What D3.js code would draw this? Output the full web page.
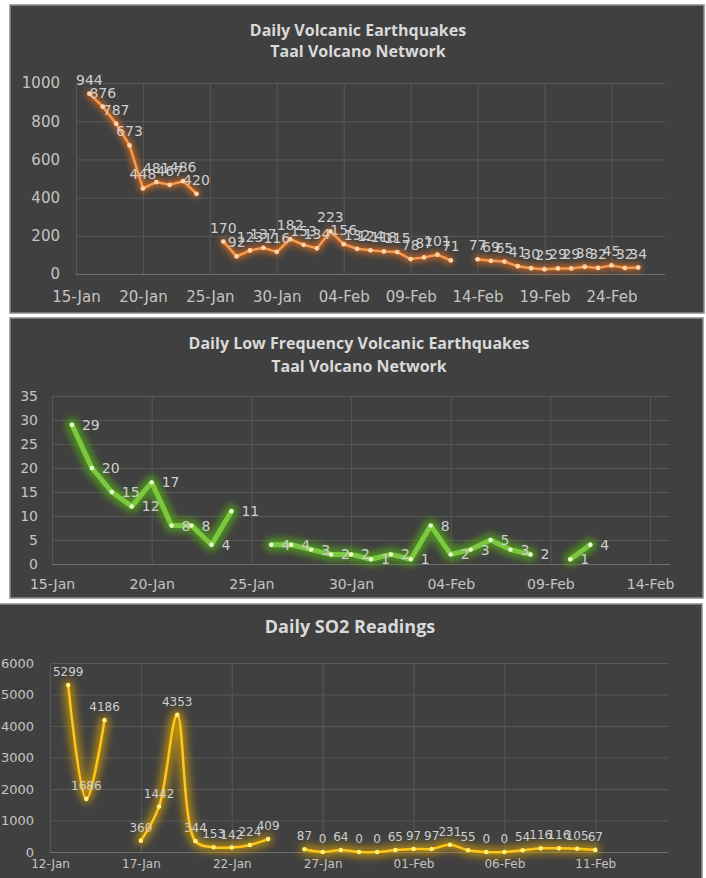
<!DOCTYPE html>
<html>
<head>
<meta charset="utf-8">
<script src="https://cdn.jsdelivr.net/npm/d3@7"></script>
<style>
  html, body { margin: 0; padding: 0; background: #ffffff; }
  svg { display: block; }
  .title { font-family: "Open Sans", sans-serif; font-weight: bold; fill: #d9d9d9; }
  .tick text { font-family: "DejaVu Sans", sans-serif; fill: #c4c4c4; }
  .lbl { font-family: "DejaVu Sans", sans-serif; fill: #cfcfcf; }
</style>
</head>
<body>
<svg id="chart" width="706" height="878"></svg>
<script>
// ---- Daily volcanic earthquakes (Taal Volcano Network) ----
const vtDays = ["2020-01-16","2020-01-17","2020-01-18","2020-01-19","2020-01-20","2020-01-21","2020-01-22","2020-01-23","2020-01-24","2020-01-25",
  "2020-01-26","2020-01-27","2020-01-28","2020-01-29","2020-01-30","2020-01-31","2020-02-01","2020-02-02","2020-02-03","2020-02-04",
  "2020-02-05","2020-02-06","2020-02-07","2020-02-08","2020-02-09","2020-02-10","2020-02-11","2020-02-12","2020-02-13","2020-02-14",
  "2020-02-15","2020-02-16","2020-02-17","2020-02-18","2020-02-19","2020-02-20","2020-02-21","2020-02-22","2020-02-23","2020-02-24",
  "2020-02-25","2020-02-26"];
const vtCounts = [944,876,787,673,448,481,467,486,420,null,
  170,92,123,137,116,182,153,134,223,156,
  132,124,118,115,78,87,101,71,null,77,
  69,65,41,30,25,29,29,38,32,45,
  32,34];
const vtTicks = ["2020-01-15","2020-01-20","2020-01-25","2020-01-30","2020-02-04","2020-02-09","2020-02-14","2020-02-19","2020-02-24"];
const vtYTicks = [0,200,400,600,800,1000];

// ---- Daily low frequency volcanic earthquakes ----
const lfDays = ["2020-01-16","2020-01-17","2020-01-18","2020-01-19","2020-01-20","2020-01-21","2020-01-22","2020-01-23","2020-01-24","2020-01-25",
  "2020-01-26","2020-01-27","2020-01-28","2020-01-29","2020-01-30","2020-01-31","2020-02-01","2020-02-02","2020-02-03","2020-02-04",
  "2020-02-05","2020-02-06","2020-02-07","2020-02-08","2020-02-09","2020-02-10","2020-02-11"];
const lfCounts = [29,20,15,12,17,8,8,4,11,null,
  4,4,3,2,2,1,2,1,8,2,
  3,5,3,2,null,1,4];
const lfTicks = ["2020-01-15","2020-01-20","2020-01-25","2020-01-30","2020-02-04","2020-02-09","2020-02-14"];
const lfYTicks = [0,5,10,15,20,25,30,35];

// ---- Daily SO2 readings ----
const so2Days = ["2020-01-13","2020-01-14","2020-01-15","2020-01-16","2020-01-17","2020-01-18","2020-01-19","2020-01-20","2020-01-21","2020-01-22",
  "2020-01-23","2020-01-24","2020-01-25","2020-01-26","2020-01-27","2020-01-28","2020-01-29","2020-01-30","2020-01-31","2020-02-01",
  "2020-02-02","2020-02-03","2020-02-04","2020-02-05","2020-02-06","2020-02-07","2020-02-08","2020-02-09","2020-02-10","2020-02-11"];
const so2Values = [5299,1686,4186,null,360,1442,4353,344,153,142,
  224,409,null,87,0,64,0,0,65,97,
  97,231,55,0,0,54,116,116,105,67];
const so2Ticks = ["2020-01-12","2020-01-17","2020-01-22","2020-01-27","2020-02-01","2020-02-06","2020-02-11"];
const so2YTicks = [0,1000,2000,3000,4000,5000,6000];

const parse = d3.utcParse("%Y-%m-%d");
const fmt = d3.utcFormat("%d-%b");
const svg = d3.select("#chart");

// soft blur used for the glow under each line
const defs = svg.append("defs");
[["blur3", 3], ["blur4", 4]].forEach(([id, sd]) => {
  defs.append("filter").attr("id", id)
    .attr("x", "-10%").attr("y", "-30%").attr("width", "120%").attr("height", "160%")
    .append("feGaussianBlur").attr("stdDeviation", sd);
});

// panel backgrounds
function panel(x, y, w, h) {
  svg.append("rect").attr("x", x).attr("y", y).attr("width", w).attr("height", h)
    .attr("fill", "#404040").attr("stroke", "#8c8c8c").attr("stroke-width", 1.5);
}
panel(10, 5, 694, 308);
panel(10, 318, 693, 280);
panel(-2, 604, 704, 280);

function drawChart(cfg) {
  const g = svg.append("g");
  const data = cfg.days.map((d, i) => ({ date: parse(d), value: cfg.values[i] }));
  const x = d3.scaleUtc().domain(cfg.xDomain.map(parse)).range([cfg.left, cfg.right]);
  const y = d3.scaleLinear().domain(cfg.yDomain).range([cfg.bottom, cfg.top]);

  // gridlines
  g.append("g").attr("transform", `translate(0,${cfg.bottom})`)
    .call(d3.axisBottom(x).tickValues(cfg.ticks.map(parse)).tickSize(-(cfg.bottom - cfg.top)).tickFormat(""))
    .call(s => s.select(".domain").remove())
    .call(s => s.selectAll("line").attr("stroke", "#575757"));
  g.append("g").attr("transform", `translate(${cfg.left},0)`)
    .call(d3.axisLeft(y).tickValues(cfg.yTicks).tickSize(-(cfg.right - cfg.left)).tickFormat(""))
    .call(s => s.select(".domain").remove())
    .call(s => s.selectAll("line").attr("stroke", d => d === 0 ? "#6e6e6e" : "#575757"));

  // axis labels
  g.append("g").attr("transform", `translate(0,${cfg.xLabelY})`)
    .call(d3.axisBottom(x).tickValues(cfg.ticks.map(parse)).tickSize(0).tickPadding(0).tickFormat(fmt))
    .call(s => s.select(".domain").remove())
    .call(s => s.selectAll("text").attr("font-size", cfg.axisFont).attr("dy", 0));
  g.append("g").attr("transform", `translate(${cfg.yLabelX},0)`)
    .call(d3.axisLeft(y).tickValues(cfg.yTicks).tickSize(0).tickPadding(0).tickFormat(d3.format("d")))
    .call(s => s.select(".domain").remove())
    .call(s => s.selectAll("text").attr("font-size", cfg.yFont));

  // line with glow
  const line = d3.line().defined(d => d.value !== null)
    .x(d => x(d.date)).y(d => y(d.value)).curve(cfg.curve);
  g.append("path").datum(data).attr("d", line).attr("fill", "none")
    .attr("stroke", cfg.glow).attr("stroke-width", cfg.glowWidth).attr("stroke-opacity", 0.75)
    .attr("stroke-linecap", "round").attr("stroke-linejoin", "round").attr("filter", `url(#${cfg.blur})`);
  g.append("path").datum(data).attr("d", line).attr("fill", "none")
    .attr("stroke", cfg.color).attr("stroke-width", cfg.width)
    .attr("stroke-linecap", "round").attr("stroke-linejoin", "round");

  const pts = data.filter(d => d.value !== null);
  g.selectAll(".dot").data(pts).join("circle")
    .attr("cx", d => x(d.date)).attr("cy", d => y(d.value)).attr("r", cfg.dotR)
    .attr("fill", cfg.dot);

  // data labels
  g.selectAll(".lbl").data(pts).join("text").attr("class", "lbl")
    .attr("x", d => x(d.date) + cfg.labelDx).attr("y", d => y(d.value) + cfg.labelDy)
    .attr("text-anchor", cfg.labelAnchor).attr("font-size", cfg.labelFont)
    .text(d => d.value);

  // title
  cfg.title.forEach((t, i) => {
    svg.append("text").attr("class", "title").attr("x", cfg.titleX).attr("y", cfg.titleY + i * cfg.titleGap)
      .attr("text-anchor", "middle").attr("font-size", cfg.titleFont).text(t);
  });
}

drawChart({
  days: vtDays, values: vtCounts, ticks: vtTicks, yTicks: vtYTicks,
  xDomain: ["2020-01-15", "2020-02-28"], yDomain: [0, 1000],
  left: 76, right: 665, top: 83, bottom: 274,
  xLabelY: 302, yLabelX: 60, axisFont: 15, yFont: 15,
  curve: d3.curveLinear, color: "#f59a4f", width: 2.5, glow: "#e8701e", glowWidth: 7, blur: "blur3",
  dot: "#ffd2a8", dotR: 2.4,
  labelDx: 0, labelDy: -9, labelAnchor: "middle", labelFont: 14,
  title: ["Daily Volcanic Earthquakes", "Taal Volcano Network"], titleX: 358, titleY: 36, titleGap: 21, titleFont: 16
});

drawChart({
  days: lfDays, values: lfCounts, ticks: lfTicks, yTicks: lfYTicks,
  xDomain: ["2020-01-15", "2020-02-15"], yDomain: [0, 35],
  left: 52, right: 670, top: 396, bottom: 564,
  xLabelY: 589, yLabelX: 38, axisFont: 14, yFont: 14,
  curve: d3.curveLinear, color: "#7cc83e", width: 5, glow: "#52a01e", glowWidth: 14, blur: "blur3",
  dot: "#eaffd8", dotR: 2.2,
  labelDx: 10, labelDy: 5, labelAnchor: "start", labelFont: 14,
  title: ["Daily Low Frequency Volcanic Earthquakes", "Taal Volcano Network"], titleX: 359, titleY: 349, titleGap: 23, titleFont: 16
});

drawChart({
  days: so2Days, values: so2Values, ticks: so2Ticks, yTicks: so2YTicks,
  xDomain: ["2020-01-12", "2020-02-15"], yDomain: [0, 6000],
  left: 50, right: 668, top: 663, bottom: 852,
  xLabelY: 868, yLabelX: 34, axisFont: 12, yFont: 13,
  curve: d3.curveCatmullRom.alpha(0.5), color: "#ffc51a", width: 2.5, glow: "#e0a800", glowWidth: 9, blur: "blur4",
  dot: "#fff07a", dotR: 2.3,
  labelDx: 0, labelDy: -9, labelAnchor: "middle", labelFont: 12,
  title: ["Daily SO2 Readings"], titleX: 350, titleY: 633, titleGap: 0, titleFont: 18
});
</script>
</body>
</html>
